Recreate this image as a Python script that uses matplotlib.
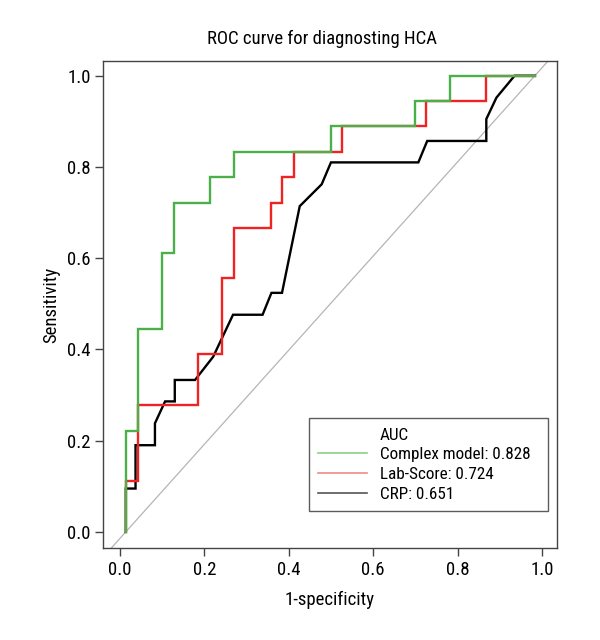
import matplotlib
matplotlib.use("Agg")
import matplotlib.pyplot as plt
from matplotlib import font_manager
from matplotlib.lines import Line2D

# pick a condensed font if available
family = "DejaVu Sans"
for cand in ["Liberation Sans Narrow", "DejaVu Sans Condensed", "Roboto Condensed", "Open Sans Condensed"]:
    try:
        font_manager.findfont(font_manager.FontProperties(family=cand), fallback_to_default=False)
        family = cand
        break
    except Exception:
        pass
plt.rcParams["font.family"] = [family, "DejaVu Sans"]

title = "ROC curve for diagnosting HCA"
xlabel = "1-specificity"
ylabel = "Sensitivity"
ticks = [0.0, 0.2, 0.4, 0.6, 0.8, 1.0]
tick_labels = ["0.0", "0.2", "0.4", "0.6", "0.8", "1.0"]

legend_title = "AUC"
names = ["Complex model", "Lab-Score", "CRP"]
aucs = [0.828, 0.724, 0.651]

# ROC curve vertices (1-specificity, sensitivity)
complex_fpr = [0.014, 0.014, 0.043, 0.043, 0.100, 0.100, 0.128, 0.128, 0.213, 0.213,
               0.271, 0.271, 0.499, 0.499, 0.699, 0.699, 0.783, 0.783, 0.983]
complex_tpr = [0.0, 0.222, 0.222, 0.444, 0.444, 0.611, 0.611, 0.722, 0.722, 0.778,
               0.778, 0.833, 0.833, 0.889, 0.889, 0.944, 0.944, 1.0, 1.0]

lab_fpr = [0.014, 0.014, 0.043, 0.043, 0.185, 0.185, 0.243, 0.243, 0.271, 0.271, 0.357, 0.357,
           0.385, 0.385, 0.413, 0.413, 0.527, 0.527, 0.726, 0.726, 0.868, 0.868, 0.983]
lab_tpr = [0.0, 0.111, 0.111, 0.278, 0.278, 0.389, 0.389, 0.556, 0.556, 0.667, 0.667, 0.722,
           0.722, 0.778, 0.778, 0.833, 0.833, 0.889, 0.889, 0.944, 0.944, 1.0, 1.0]

crp_fpr = [0.014, 0.014, 0.037, 0.037, 0.083, 0.083, 0.107, 0.130, 0.130, 0.178, 0.221, 0.268,
           0.338, 0.359, 0.384, 0.426, 0.478, 0.500, 0.707, 0.728, 0.868, 0.868, 0.892, 0.935, 0.983]
crp_tpr = [0.0, 0.095, 0.095, 0.190, 0.190, 0.238, 0.286, 0.286, 0.333, 0.333, 0.384, 0.476,
           0.476, 0.524, 0.524, 0.714, 0.762, 0.810, 0.810, 0.857, 0.857, 0.905, 0.952, 1.0, 1.0]

green = "#4daf4a"
red = "#f02222"
black = "#000000"
axcol = "#444444"

fig = plt.figure(figsize=(6.0, 6.4), dpi=100)
ax = fig.add_axes([0.171, 0.1433, 0.757, 0.7619])

ax.axline((complex_fpr[0], complex_tpr[0]), (complex_fpr[-1], complex_tpr[-1]),
          color="#b5b5b5", lw=0.9, zorder=1)
ax.plot(crp_fpr, crp_tpr, color=black, lw=1.7, zorder=2, solid_joinstyle="miter")
ax.plot(lab_fpr, lab_tpr, color=red, lw=1.7, zorder=3, solid_joinstyle="miter")
ax.plot(complex_fpr, complex_tpr, color=green, lw=1.7, zorder=4, solid_joinstyle="miter")

ax.set_xlim(-0.041, 1.035)
ax.set_ylim(-0.036, 1.033)
ax.set_xticks(ticks)
ax.set_xticklabels(tick_labels)
ax.set_yticks(ticks)
ax.set_yticklabels(tick_labels)
ax.tick_params(axis="x", length=6, width=1.0, color=axcol, pad=3.5, labelsize=13.5)
ax.tick_params(axis="y", length=6, width=1.0, color=axcol, pad=2.5, labelsize=13.5)
for s in ax.spines.values():
    s.set_color(axcol)
    s.set_linewidth(1.0)

ax.set_title(title, fontsize=13.5, pad=12, x=0.482)
ax.set_xlabel(xlabel, fontsize=13.5, labelpad=8)
ax.set_ylabel(ylabel, fontsize=13.5, labelpad=5)

handles = [Line2D([], [], color="none"),
           Line2D([], [], color="#8ccf88", lw=1.2),
           Line2D([], [], color="#f08a8a", lw=1.2),
           Line2D([], [], color="#555555", lw=1.2)]
labels = [legend_title] + [f"{n}: {a:.3f}" for n, a in zip(names, aucs)]
leg = ax.legend(handles, labels, loc="upper left", bbox_to_anchor=(0.454, 0.0, 0.527, 0.2666),
                mode="expand", borderaxespad=0, fontsize=12.3, frameon=True, fancybox=False,
                handlelength=2.85, handletextpad=0.75, borderpad=0.55, labelspacing=0.28)
leg.get_frame().set_edgecolor("#333333")
leg.get_frame().set_linewidth(1.0)

fig.savefig("out.png", dpi=100, facecolor="white")
